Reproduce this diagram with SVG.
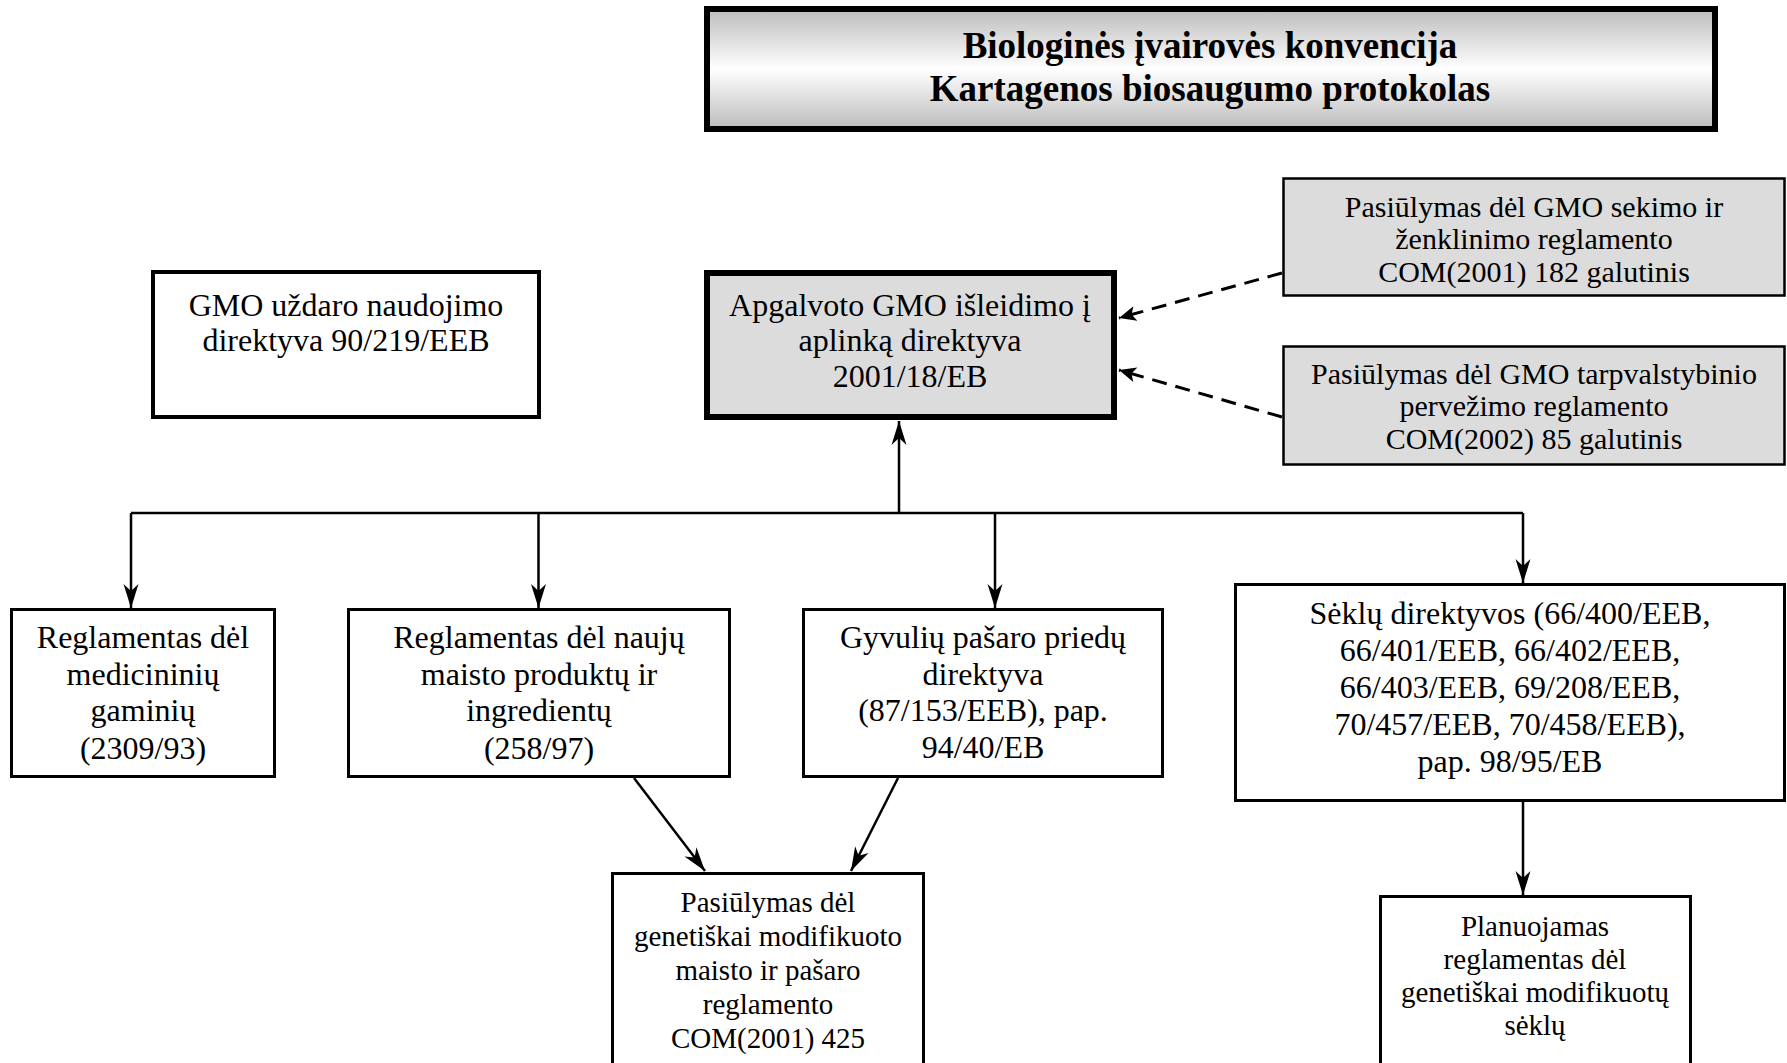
<svg xmlns="http://www.w3.org/2000/svg" width="1787" height="1063" viewBox="0 0 1787 1063">
<style>
text{font-family:"Liberation Serif","Times New Roman",serif;fill:#000;text-anchor:middle}
.t32{font-size:32px}
.t30{font-size:30px}
.t29{font-size:29px}
.title{font-size:37px;font-weight:bold}
.box{fill:#fff;stroke:#000;stroke-width:3}
.grey{fill:#dcdcdc;stroke:#000;stroke-width:2.5}
.con{fill:none;stroke:#000;stroke-width:2.5}
.dash{fill:none;stroke:#000;stroke-width:3;stroke-dasharray:15 9}
</style>
<defs>
<linearGradient id="g" x1="0" y1="0" x2="0" y2="1">
<stop offset="0" stop-color="#bcbcbc"/>
<stop offset="0.5" stop-color="#ffffff"/>
<stop offset="1" stop-color="#bcbcbc"/>
</linearGradient>
<marker id="a" viewBox="-25 -9 26 18" refX="0" refY="0" markerWidth="26" markerHeight="18" markerUnits="userSpaceOnUse" orient="auto">
<path d="M0,0 L-24,-7.5 L-17,0 L-24,7.5 Z" fill="#000" stroke="none"/>
</marker>
<marker id="d" viewBox="-19 -9 20 18" refX="0" refY="0" markerWidth="20" markerHeight="18" markerUnits="userSpaceOnUse" orient="auto">
<path d="M0,0 L-17,-7.5 L-13,0 L-17,7.5 Z" fill="#000" stroke="none"/>
</marker>
</defs>
<rect width="1787" height="1063" fill="#fff"/>

<g id="title">
<rect x="707" y="9" width="1008" height="120" fill="url(#g)" stroke="#000" stroke-width="6"/>
<text class="title" x="1210" y="58">Biologinės įvairovės konvencija</text>
<text class="title" x="1210" y="101">Kartagenos biosaugumo protokolas</text>
</g>

<g id="closed-use">
<rect x="153" y="272" width="386" height="145" fill="#fff" stroke="#000" stroke-width="4"/>
<text class="t32" x="346" y="316">GMO uždaro naudojimo</text>
<text class="t32" x="346" y="351">direktyva 90/219/EEB</text>
</g>

<g id="release">
<rect x="707" y="273" width="407" height="144" fill="#dcdcdc" stroke="#000" stroke-width="6"/>
<text class="t32" x="910" y="316">Apgalvoto GMO išleidimo į</text>
<text class="t32" x="910" y="351">aplinką direktyva</text>
<text class="t32" x="910" y="387">2001/18/EB</text>
</g>

<g id="traceability">
<rect class="grey" x="1283.5" y="178.5" width="501" height="117"/>
<text class="t30" x="1534" y="217">Pasiūlymas dėl GMO sekimo ir</text>
<text class="t30" x="1534" y="249">ženklinimo reglamento</text>
<text class="t30" x="1534" y="282">COM(2001) 182 galutinis</text>
</g>

<g id="transboundary">
<rect class="grey" x="1283.5" y="346.5" width="501" height="118"/>
<text class="t30" x="1534" y="384">Pasiūlymas dėl GMO tarpvalstybinio</text>
<text class="t30" x="1534" y="416">pervežimo reglamento</text>
<text class="t30" x="1534" y="449">COM(2002) 85 galutinis</text>
</g>

<g id="medicinal">
<rect class="box" x="11.5" y="609.5" width="263" height="167"/>
<text class="t32" x="143" y="648">Reglamentas dėl</text>
<text class="t32" x="143" y="685">medicininių</text>
<text class="t32" x="143" y="721">gaminių</text>
<text class="t32" x="143" y="759">(2309/93)</text>
</g>

<g id="novel-food">
<rect class="box" x="348.5" y="609.5" width="381" height="167"/>
<text class="t32" x="539" y="648">Reglamentas dėl naujų</text>
<text class="t32" x="539" y="685">maisto produktų ir</text>
<text class="t32" x="539" y="721">ingredientų</text>
<text class="t32" x="539" y="759">(258/97)</text>
</g>

<g id="feed-additives">
<rect class="box" x="803.5" y="609.5" width="359" height="167"/>
<text class="t32" x="983" y="648">Gyvulių pašaro priedų</text>
<text class="t32" x="983" y="685">direktyva</text>
<text class="t32" x="983" y="721">(87/153/EEB), pap.</text>
<text class="t32" x="983" y="758">94/40/EB</text>
</g>

<g id="seeds">
<rect class="box" x="1235.5" y="584.5" width="549" height="216"/>
<text class="t32" x="1510" y="624">Sėklų direktyvos (66/400/EEB,</text>
<text class="t32" x="1510" y="661">66/401/EEB, 66/402/EEB,</text>
<text class="t32" x="1510" y="698">66/403/EEB, 69/208/EEB,</text>
<text class="t32" x="1510" y="735">70/457/EEB, 70/458/EEB),</text>
<text class="t32" x="1510" y="772">pap. 98/95/EB</text>
</g>

<g id="gm-food-feed">
<rect class="box" x="612.5" y="873.5" width="311" height="200"/>
<text class="t29" x="768" y="912">Pasiūlymas dėl</text>
<text class="t29" x="768" y="946">genetiškai modifikuoto</text>
<text class="t29" x="768" y="980">maisto ir pašaro</text>
<text class="t29" x="768" y="1014">reglamento</text>
<text class="t29" x="768" y="1048">COM(2001) 425</text>
</g>

<g id="gm-seeds">
<rect class="box" x="1380.5" y="896.5" width="310" height="200"/>
<text class="t29" x="1535" y="936">Planuojamas</text>
<text class="t29" x="1535" y="969">reglamentas dėl</text>
<text class="t29" x="1535" y="1002">genetiškai modifikuotų</text>
<text class="t29" x="1535" y="1035">sėklų</text>
</g>

<g id="connectors">
<path class="con" d="M899,513 L899,421" marker-end="url(#a)"/>
<path class="con" d="M131,513 L1523,513"/>
<path class="con" d="M131,513 L131,608" marker-end="url(#a)"/>
<path class="con" d="M538.5,513 L538.5,608" marker-end="url(#a)"/>
<path class="con" d="M995,513 L995,608" marker-end="url(#a)"/>
<path class="con" d="M1523,513 L1523,583" marker-end="url(#a)"/>
<path class="con" d="M1523,802 L1523,895" marker-end="url(#a)"/>
<path class="con" d="M634,778 L705,871" marker-end="url(#a)"/>
<path class="con" d="M898,778 L851,871" marker-end="url(#a)"/>
<path class="dash" d="M1282,273 L1119,318" marker-end="url(#d)"/>
<path class="dash" d="M1282,417 L1119,370" marker-end="url(#d)"/>
</g>
</svg>
